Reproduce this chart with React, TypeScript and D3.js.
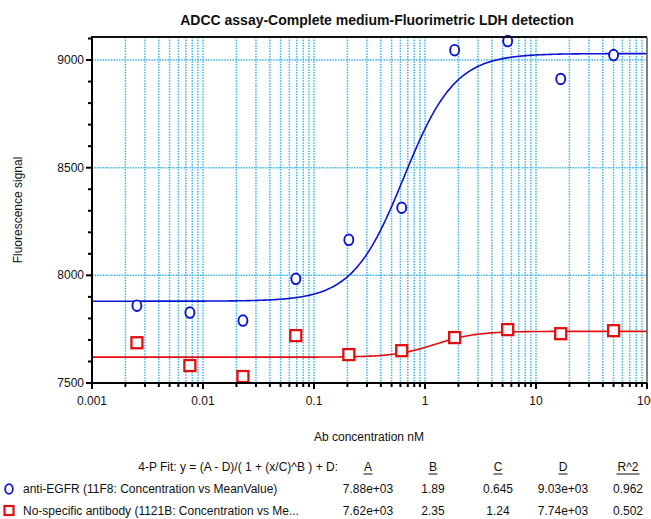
import React from 'react';
import * as d3 from 'd3';

// Antibody concentrations (nM), 3-fold dilution series
const concentrations = [0.00254, 0.00762, 0.0229, 0.0686, 0.206, 0.617, 1.85, 5.56, 16.7, 50];
// Mean fluorescence signal per concentration
const antiEgfrValues = [7859, 7827, 7790, 7984, 8165, 8314, 9046, 9088, 8912, 9023];
const nonSpecificValues = [7687, 7581, 7530, 7720, 7632, 7650, 7711, 7748, 7729, 7743];

// 4-parameter logistic fit results: A, B, C, D, R^2
const fitHeaders = ['A', 'B', 'C', 'D', 'R^2'];
const antiEgfrFit = [7.88e3, 1.89, 0.645, 9.03e3, 0.962];
const nonSpecificFit = [7.62e3, 2.35, 1.24, 7.74e3, 0.502];

const seriesNames = [
  'anti-EGFR (11F8: Concentration vs MeanValue)',
  'No-specific antibody (1121B: Concentration vs Me...',
];

const xTickValues = [0.001, 0.01, 0.1, 1, 10, 100];
const xTickLabels = ['0.001', '0.01', '0.1', '1', '10', '100'];
const yMajorTicks = [7500, 8000, 8500, 9000];
const yGridTicks = [8000, 8500, 9000];

const W = 651;
const H = 519;
const FONT = '"Liberation Sans", Arial, Helvetica, sans-serif';
const BLUE = '#0a14d2';
const RED = '#e01010';
const GRID = '#3fb6ec';
const INK = '#111';

const left = 92;
const right = 647;
const top = 37;
const bottom = 383;

const x = d3.scaleLog().domain([0.001, 100]).range([left, right]);
const y = d3.scaleLinear().domain([7500, 9107]).range([bottom, top]);

function fourPL(p: number[], c: number) {
  const [A, B, C, D] = p;
  return (A - D) / (1 + Math.pow(c / C, B)) + D;
}

function fmt(v: number) {
  if (Math.abs(v) >= 1000) {
    const [m, e] = v.toExponential(2).split('e');
    const sign = e[0];
    const digits = e.slice(1).padStart(2, '0');
    return `${m}e${sign}${digits}`;
  }
  return v.toPrecision(3);
}

// minor ticks: 2..9 within each decade
const minorX: number[] = [];
for (let d = -3; d < 2; d++) {
  for (let k = 2; k <= 9; k++) minorX.push(k * Math.pow(10, d));
}
const minorY = d3.range(7500, 9101, 100).filter((v) => v % 500 !== 0);

const curveX = d3.range(0, 401).map((i) => Math.pow(10, -3 + (5 * i) / 400));

function fitPath(p: number[]) {
  return d3
    .line<number>()
    .x((c) => x(c))
    .y((c) => y(fourPL(p, c)))(curveX) as string;
}

const colCenters = [368, 433, 498, 563, 628];

export default function App() {
  return (
    <svg
      width={W}
      height={H}
      style={{ position: 'absolute', left: 0, top: 0, background: '#fff' }}
      fontFamily={FONT}
    >
      <rect x={0} y={0} width={W} height={H} fill="#fff" />
      <text x={377} y={25} textAnchor="middle" fontSize={14} fontWeight="bold" fill={INK}>
        ADCC assay-Complete medium-Fluorimetric LDH detection
      </text>

      {/* grid */}
      <g stroke={GRID} strokeWidth={1.5} strokeDasharray="1.5,1.2">
        {[...minorX, ...xTickValues.slice(1, -1)].map((v, i) => (
          <line key={'gx' + i} x1={x(v)} x2={x(v)} y1={top} y2={bottom} />
        ))}
        {yGridTicks.map((v) => (
          <line key={'gy' + v} x1={left} x2={right} y1={y(v)} y2={y(v)} />
        ))}
      </g>

      {/* fit curves */}
      <path d={fitPath(antiEgfrFit)} fill="none" stroke={BLUE} strokeWidth={1.6} />
      <path d={fitPath(nonSpecificFit)} fill="none" stroke={RED} strokeWidth={1.6} />

      {/* data markers */}
      {concentrations.map((c, i) => (
        <ellipse
          key={'b' + i}
          cx={x(c)}
          cy={y(antiEgfrValues[i])}
          rx={4.5}
          ry={5.3}
          fill="#fff"
          stroke={BLUE}
          strokeWidth={1.9}
        />
      ))}
      {concentrations.map((c, i) => (
        <rect
          key={'r' + i}
          x={x(c) - 5.5}
          y={y(nonSpecificValues[i]) - 5.5}
          width={11}
          height={11}
          fill="#fff"
          stroke={RED}
          strokeWidth={2.3}
        />
      ))}

      {/* frame */}
      <line x1={left} x2={right} y1={top} y2={top} stroke="#111" strokeWidth={2} />
      <line x1={right} x2={right} y1={top} y2={bottom} stroke="#555" strokeWidth={1.5} />
      <line x1={left} x2={left} y1={top - 1} y2={bottom + 1} stroke="#000" strokeWidth={2} />
      <line x1={left - 1} x2={right} y1={bottom} y2={bottom} stroke="#000" strokeWidth={2} />

      {/* y ticks */}
      {yMajorTicks.map((v) => (
        <g key={'yt' + v}>
          <line x1={left - 6} x2={left} y1={y(v)} y2={y(v)} stroke="#000" strokeWidth={2} />
          <text x={left - 8} y={y(v) + 4} textAnchor="end" fontSize={12} fill={INK}>
            {v}
          </text>
        </g>
      ))}
      {minorY.map((v) => (
        <line key={'ym' + v} x1={left - 4} x2={left} y1={y(v)} y2={y(v)} stroke="#000" strokeWidth={2} />
      ))}

      {/* x ticks */}
      {xTickValues.map((v, i) => (
        <g key={'xt' + v}>
          <line x1={x(v)} x2={x(v)} y1={bottom} y2={bottom + 6} stroke="#000" strokeWidth={2} />
          <text x={x(v)} y={bottom + 22} textAnchor="middle" fontSize={12} fill={INK}>
            {xTickLabels[i]}
          </text>
        </g>
      ))}
      {minorX.map((v, i) => (
        <line key={'xm' + i} x1={x(v)} x2={x(v)} y1={bottom} y2={bottom + 4} stroke="#000" strokeWidth={2} />
      ))}

      {/* axis titles */}
      <text x={369} y={441} textAnchor="middle" fontSize={12} fill={INK}>
        Ab concentration nM
      </text>
      <text
        transform={`translate(22, ${(top + bottom) / 2}) rotate(-90)`}
        textAnchor="middle"
        fontSize={12}
        fill={INK}
      >
        Fluorescence signal
      </text>

      {/* fit table */}
      <text x={338} y={471} textAnchor="end" fontSize={12} fill={INK}>
        4-P Fit:  y = (A - D)/( 1 + (x/C)^B ) + D:
      </text>
      {fitHeaders.map((h, i) => (
        <g key={'h' + h}>
          <text x={colCenters[i]} y={471} textAnchor="middle" fontSize={12} fill={INK}>
            {h}
          </text>
          <line
            x1={colCenters[i] - (h.length * 7) / 2 - 1}
            x2={colCenters[i] + (h.length * 7) / 2 + 1}
            y1={474}
            y2={474}
            stroke={INK}
            strokeWidth={1}
          />
        </g>
      ))}
      {[antiEgfrFit, nonSpecificFit].map((row, r) => (
        <g key={'row' + r}>
          {row.map((v, i) => (
            <text key={i} x={colCenters[i]} y={493 + r * 22} textAnchor="middle" fontSize={12} fill={INK}>
              {fmt(v)}
            </text>
          ))}
          <text x={23} y={493 + r * 22} fontSize={12} fill={INK}>
            {seriesNames[r]}
          </text>
        </g>
      ))}
      <ellipse cx={9} cy={489} rx={3.8} ry={4.8} fill="#fff" stroke={BLUE} strokeWidth={1.8} />
      <rect x={4.5} y={506} width={9} height={9} fill="#fff" stroke={RED} strokeWidth={2.2} />
    </svg>
  );
}
